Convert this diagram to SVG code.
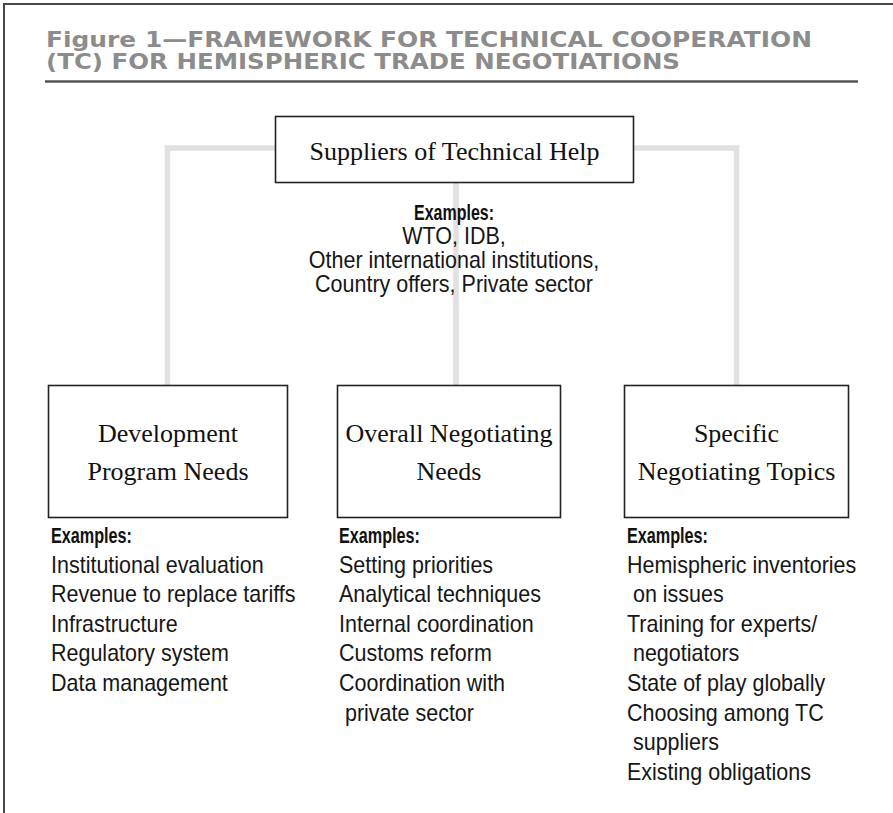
<svg xmlns="http://www.w3.org/2000/svg" width="893" height="813" viewBox="0 0 893 813">
  <style>
    .frame { fill: none; stroke: #4a4a4a; stroke-width: 2; }
    .title { font-family: "DejaVu Sans", "Liberation Sans", sans-serif; font-weight: bold; font-size: 21px; fill: #8c8c8c; }
    .rule { stroke: #555555; stroke-width: 2.5; }
    .link { fill: none; stroke: #e1e1e1; stroke-width: 5.5; stroke-linejoin: miter; }
    .box { fill: #ffffff; stroke: #222222; stroke-width: 1.6; }
    .label { font-family: "Liberation Serif", "Times New Roman", serif; font-size: 26px; fill: #111111; text-anchor: middle; }
    .head { font-family: "Liberation Sans", Arial, sans-serif; font-weight: bold; font-size: 22px; fill: #111111; }
    .item { font-family: "Liberation Sans", Arial, sans-serif; font-size: 23px; fill: #161616; }
    .mid { text-anchor: middle; }
  </style>

  <rect width="893" height="813" fill="#ffffff"/>

  <!-- page frame (open to the right and bottom) -->
  <path class="frame" d="M4,813 V4 H893"/>

  <!-- heading -->
  <g id="heading">
    <text class="title" x="46" y="47" textLength="766" lengthAdjust="spacingAndGlyphs">Figure 1—FRAMEWORK FOR TECHNICAL COOPERATION</text>
    <text class="title" x="46" y="69" textLength="634" lengthAdjust="spacingAndGlyphs">(TC) FOR HEMISPHERIC TRADE NEGOTIATIONS</text>
    <line class="rule" x1="45" y1="81.5" x2="858" y2="81.5"/>
  </g>

  <!-- connectors -->
  <g id="connectors">
    <path class="link" d="M167.5,385 V148 H276"/>
    <path class="link" d="M633,148 H736.5 V385"/>
    <path class="link" d="M456,183 V385"/>
  </g>

  <!-- top node; list text is narrowed with a horizontal scale -->
  <g id="suppliers">
    <rect class="box" x="275.5" y="116.5" width="358" height="66"/>
    <text class="label" x="454.5" y="160">Suppliers of Technical Help</text>
    <text class="head mid" x="454" y="220" textLength="80" lengthAdjust="spacingAndGlyphs">Examples:</text>
    <g transform="scale(0.935,1)">
      <text class="item mid" x="485.56" y="244">WTO, IDB,</text>
      <text class="item mid" x="485.56" y="268">Other international institutions,</text>
      <text class="item mid" x="485.56" y="292">Country offers, Private sector</text>
    </g>
  </g>

  <!-- lower nodes -->
  <g id="development">
    <rect class="box" x="48.5" y="385.5" width="239" height="132"/>
    <text class="label" x="168" y="442">Development</text>
    <text class="label" x="168" y="480">Program Needs</text>
    <text class="head" x="51" y="543" textLength="81" lengthAdjust="spacingAndGlyphs">Examples:</text>
    <g transform="scale(0.935,1)">
      <text class="item" x="54.55" y="572.6">Institutional evaluation</text>
      <text class="item" x="54.55" y="602.2">Revenue to replace tariffs</text>
      <text class="item" x="54.55" y="631.8">Infrastructure</text>
      <text class="item" x="54.55" y="661.4">Regulatory system</text>
      <text class="item" x="54.55" y="691">Data management</text>
    </g>
  </g>

  <g id="overall">
    <rect class="box" x="337.5" y="385.5" width="223" height="132"/>
    <text class="label" x="449" y="442">Overall Negotiating</text>
    <text class="label" x="449" y="480">Needs</text>
    <text class="head" x="339" y="543" textLength="81" lengthAdjust="spacingAndGlyphs">Examples:</text>
    <g transform="scale(0.935,1)">
      <text class="item" x="362.57" y="572.6">Setting priorities</text>
      <text class="item" x="362.57" y="602.2">Analytical techniques</text>
      <text class="item" x="362.57" y="631.8">Internal coordination</text>
      <text class="item" x="362.57" y="661.4">Customs reform</text>
      <text class="item" x="362.57" y="691">Coordination with</text>
      <text class="item" x="362.57" y="720.6" xml:space="preserve"> private sector</text>
    </g>
  </g>

  <g id="specific">
    <rect class="box" x="624.5" y="385.5" width="224" height="132"/>
    <text class="label" x="736.5" y="442">Specific</text>
    <text class="label" x="736.5" y="480">Negotiating Topics</text>
    <text class="head" x="627" y="543" textLength="81" lengthAdjust="spacingAndGlyphs">Examples:</text>
    <g transform="scale(0.935,1)">
      <text class="item" x="670.59" y="572.6">Hemispheric inventories</text>
      <text class="item" x="670.59" y="602.2" xml:space="preserve"> on issues</text>
      <text class="item" x="670.59" y="631.8">Training for experts/</text>
      <text class="item" x="670.59" y="661.4" xml:space="preserve"> negotiators</text>
      <text class="item" x="670.59" y="691">State of play globally</text>
      <text class="item" x="670.59" y="720.6">Choosing among TC</text>
      <text class="item" x="670.59" y="750.2" xml:space="preserve"> suppliers</text>
      <text class="item" x="670.59" y="779.8">Existing obligations</text>
    </g>
  </g>
</svg>
